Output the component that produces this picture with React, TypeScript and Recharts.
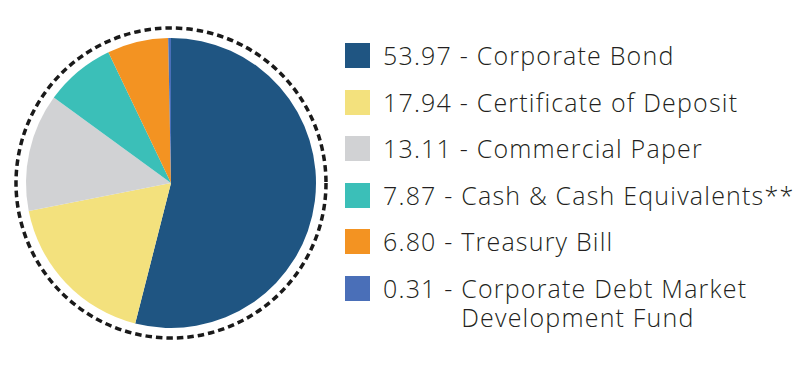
import React from 'react';
import { PieChart, Pie, Cell, Legend } from 'recharts';

// Portfolio allocation (%)
const names = [
  'Corporate Bond',
  'Certificate of Deposit',
  'Commercial Paper',
  'Cash & Cash Equivalents**',
  'Treasury Bill',
  'Corporate Debt Market Development Fund'
];
const values = [53.97, 17.94, 13.11, 7.87, 6.8, 0.31];
const colors = ['#1f5582', '#f3e17d', '#d1d2d4', '#3bbfb8', '#f39322', '#4a6fb8'];

const data = names.map((name, i) => ({ name, value: values[i] }));

const CX = 171;
const CY = 183;
const R = 145;

const renderLegend = (props: any) => {
  const payload = props.payload || [];
  return (
    <div style={{ fontFamily: '"Open Sans", sans-serif', fontWeight: 300, color: '#231f20' }}>
      {payload.map((entry: any, i: number) => (
        <div key={i} style={{ display: 'flex', alignItems: 'flex-start', height: 46.6 }}>
          <div
            style={{
              width: 25,
              height: 25,
              marginRight: 13,
              background: colors[i],
              flex: 'none'
            }}
          />
          <div style={{ display: 'flex', fontSize: 25, letterSpacing: 1.2, lineHeight: '29px', marginTop: -2 }}>
            <span style={{ whiteSpace: 'pre', flex: 'none' }}>{values[i].toFixed(2)} - </span>
            <span style={{ maxWidth: 345, flex: 'none' }}>{names[i]}</span>
          </div>
        </div>
      ))}
    </div>
  );
};

export default function App() {
  return (
    <div style={{ position: 'absolute', left: 0, top: 0, background: '#fff' }}>
      <PieChart width={798} height={391} margin={{ top: 0, right: 0, bottom: 0, left: 0 }}>
        <circle cx={CX} cy={CY} r={155} fill="none" stroke="#1a1a1a" strokeWidth={3.5} strokeDasharray="6.5 4" />
        <Pie
          data={data}
          dataKey="value"
          nameKey="name"
          cx={CX}
          cy={CY}
          outerRadius={R}
          startAngle={90}
          endAngle={-270}
          stroke="none"
          isAnimationActive={false}
        >
          {data.map((entry, index) => (
            <Cell key={`cell-${index}`} fill={colors[index]} />
          ))}
        </Pie>
        <Legend
          layout="vertical"
          align="right"
          verticalAlign="top"
          content={renderLegend}
          wrapperStyle={{ left: 345, top: 43, width: 453 }}
        />
      </PieChart>
    </div>
  );
}
